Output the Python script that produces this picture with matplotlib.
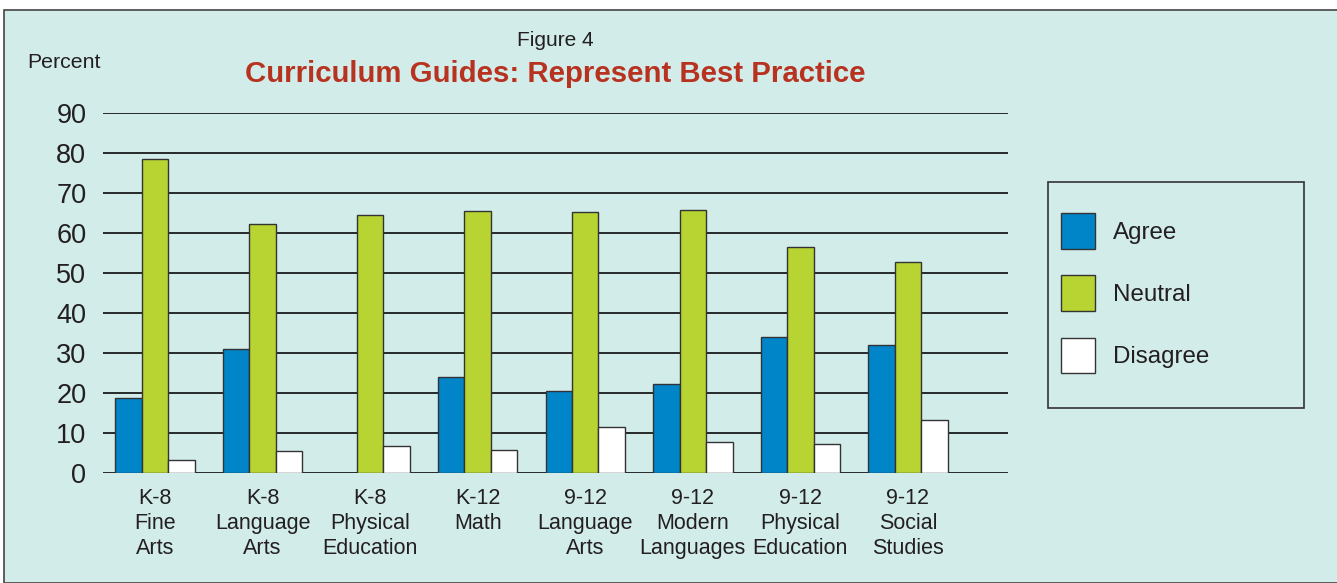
import matplotlib
matplotlib.use("Agg")
import matplotlib.pyplot as plt
import matplotlib.patches as mpatches
import numpy as np

plt.rcParams['font.family'] = ['Liberation Sans', 'DejaVu Sans']

# data
categories = ["K-8\nFine\nArts", "K-8\nLanguage\nArts", "K-8\nPhysical\nEducation",
              "K-12\nMath", "9-12\nLanguage\nArts", "9-12\nModern\nLanguages",
              "9-12\nPhysical\nEducation", "9-12\nSocial\nStudies"]
agree = [18.7, 31.0, 0.0, 24.0, 20.5, 22.2, 34.0, 32.0]
neutral = [78.5, 62.2, 64.5, 65.5, 65.3, 65.8, 56.5, 52.8]
disagree = [3.2, 5.5, 6.7, 5.7, 11.5, 7.7, 7.2, 13.3]
series = ["Agree", "Neutral", "Disagree"]

bg = "#d2ecea"
colors = ["#0085c9", "#b8d432", "#ffffff"]
ink = "#231f20"

W, H = 1337, 583
fig = plt.figure(figsize=(W/100, H/100), dpi=100, facecolor="white")

# teal panel with border
panel = mpatches.Rectangle((4/W, 0), 1 - 4/W + 0.01, 1 - 10/H, transform=fig.transFigure,
                           facecolor=bg, edgecolor="#444444", lw=1.2, zorder=-5)
fig.patches.append(panel)

ax = fig.add_axes([103/W, 1 - 473/H, (1008-103)/W, (473-113)/H])
ax.set_facecolor("none")

x = np.arange(len(categories))
bw = 0.246
for i, (vals, c) in enumerate(zip([agree, neutral, disagree], colors)):
    ax.bar(x + (i - 1) * bw, vals, width=bw, color=c, edgecolor="#333333",
           lw=1.0, label=series[i], zorder=3)

ax.set_ylim(0, 90)
ax.set_xlim(-0.483, 7.93)
ax.set_yticks(range(0, 91, 10))
ax.yaxis.grid(True, color="#1a1a1a", lw=1.3, zorder=1)
ax.set_axisbelow(True)
for s in ax.spines.values():
    s.set_visible(False)
ax.tick_params(axis="y", length=0, pad=12, labelsize=19.5, labelcolor=ink)
ax.tick_params(axis="x", length=0, pad=11, labelsize=15.5, labelcolor=ink)
ax.set_xticks(x)
ax.set_xticklabels(categories, linespacing=1.25)

fig.text(27/W, 1 - 63/H, "Percent", fontsize=15.3, color=ink, va="center", ha="left")
fig.text(555/W, 1 - 40/H, "Figure 4", fontsize=15, color=ink, va="center", ha="center")
fig.text(555/W, 1 - 74/H, "Curriculum Guides: Represent Best Practice", fontsize=21.2,
         fontweight="bold", color="#b83220", va="center", ha="center")

# legend frame
frame = mpatches.Rectangle((1048/W, 1 - 408/H), (1304-1048)/W, (408-182)/H,
                           transform=fig.transFigure, facecolor="none",
                           edgecolor="#333333", lw=1.2)
fig.patches.append(frame)
handles, labels = ax.get_legend_handles_labels()
fig.legend(handles, labels, loc="upper left", bbox_to_anchor=(1061/W, 1 - 213/H),
           frameon=False, fontsize=17.4, handlelength=1.40, handleheight=1.89,
           labelspacing=1.11, handletextpad=0.74, borderpad=0, borderaxespad=0,
           labelcolor=ink)

fig.savefig("out.png", dpi=100, facecolor="white")
